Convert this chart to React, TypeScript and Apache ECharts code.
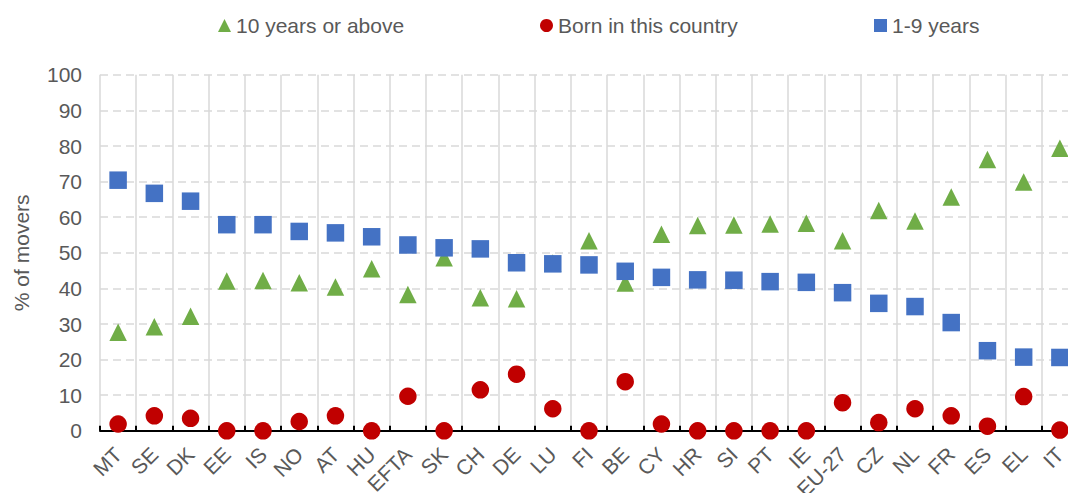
import React, { useEffect, useRef } from "react";
import * as echarts from "echarts";

// Countries / aggregates along the x axis
const categories = [
  "MT", "SE", "DK", "EE", "IS", "NO", "AT", "HU", "EFTA", "SK", "CH", "DE", "LU", "FI",
  "BE", "CY", "HR", "SI", "PT", "IE", "EU-27", "CZ", "NL", "FR", "ES", "EL", "IT",
];

// Share of movers (%) by time spent in the country
const tenYearsOrAbove = [
  27.7, 29.2, 32.2, 42.1, 42.2, 41.6, 40.4, 45.5, 38.3, 48.6, 37.4, 37.1, 47.1, 53.4,
  41.5, 55.2, 57.7, 57.8, 58.1, 58.3, 53.4, 61.9, 58.9, 65.7, 76.2, 69.9, 79.4,
];
const bornInThisCountry = [
  1.9, 4.2, 3.5, 0, 0, 2.6, 4.2, 0, 9.7, 0, 11.5, 15.9, 6.2, 0,
  13.8, 1.9, 0, 0, 0, 0, 7.9, 2.3, 6.2, 4.2, 1.3, 9.6, 0.2,
];
const oneToNineYears = [
  70.4, 66.7, 64.5, 57.9, 57.9, 56.0, 55.6, 54.5, 52.2, 51.4, 51.1, 47.2, 46.9, 46.6,
  44.8, 43.1, 42.4, 42.3, 41.9, 41.7, 38.8, 35.8, 34.9, 30.4, 22.5, 20.7, 20.6,
];

const seriesNames = ["10 years or above", "Born in this country", "1-9 years"];
const yTicks = { min: 0, max: 100, interval: 10 };

const FONT = "'Liberation Sans', Arial, sans-serif";
const TEXT = "#595959";
const GRID = "#D9D9D9";
const FS = 21;

// The drawing surface is a little wider than the window, so the last
// column runs past the right edge.
const CHART_W = 1080;
const CHART_H = 493;

export default function App() {
  const ref = useRef<HTMLDivElement>(null);

  useEffect(() => {
    if (!ref.current) return;
    document.body.style.overflow = "hidden";
    const chart = echarts.init(ref.current, undefined, { renderer: "svg" });

    const legendBase = {
      top: 15,
      padding: 0,
      itemWidth: 13,
      itemHeight: 13,
      itemGap: 0,
      textStyle: { color: TEXT, fontSize: FS, fontFamily: FONT },
    };

    chart.setOption({
      animation: false,
      textStyle: { fontFamily: FONT },
      legend: [
        { ...legendBase, left: 218, data: [seriesNames[0]] },
        { ...legendBase, left: 540, data: [seriesNames[1]] },
        { ...legendBase, left: 874, data: [seriesNames[2]] },
      ],
      grid: {
        left: 100,
        right: CHART_W - 1078,
        top: 74.8,
        bottom: 62.2,
        containLabel: false,
        outerBoundsMode: "none",
      },
      xAxis: {
        type: "category",
        data: categories,
        boundaryGap: true,
        axisLine: { show: true, lineStyle: { color: "#000", width: 2 } },
        axisTick: { show: true, inside: true, length: 5, interval: 0, lineStyle: { color: "#000", width: 2 } },
        axisLabel: {
          interval: 0,
          rotate: 45,
          margin: 20,
          color: TEXT,
          fontSize: FS,
          fontFamily: FONT,
        },
        splitLine: { show: true, interval: 0, lineStyle: { color: GRID, width: 1.5 } },
      },
      yAxis: {
        type: "value",
        min: yTicks.min,
        max: yTicks.max,
        interval: yTicks.interval,
        name: "% of movers",
        nameLocation: "middle",
        nameGap: 68,
        nameRotate: 90,
        nameTextStyle: { color: TEXT, fontSize: FS, fontFamily: FONT },
        axisLine: { show: false },
        axisTick: { show: false },
        axisLabel: { color: TEXT, fontSize: FS, fontFamily: FONT, margin: 18 },
        splitLine: { show: true, lineStyle: { color: GRID, width: 1.5, type: [8, 5] } },
      },
      series: [
        {
          name: seriesNames[0],
          type: "scatter",
          symbol: "triangle",
          symbolSize: 17.5,
          itemStyle: { color: "#70AD47", opacity: 1 },
          data: tenYearsOrAbove,
          z: 2,
        },
        {
          name: seriesNames[1],
          type: "scatter",
          symbol: "circle",
          symbolSize: 17.5,
          itemStyle: { color: "#C00000", opacity: 1 },
          data: bornInThisCountry,
          z: 3,
        },
        {
          name: seriesNames[2],
          type: "scatter",
          symbol: "rect",
          symbolSize: 17.5,
          itemStyle: { color: "#4472C4", opacity: 1 },
          data: oneToNineYears,
          z: 4,
        },
      ],
    });

    return () => chart.dispose();
  }, []);

  return (
    <div
      ref={ref}
      style={{ position: "fixed", left: 0, top: 0, width: CHART_W, height: CHART_H, background: "#fff" }}
    />
  );
}
